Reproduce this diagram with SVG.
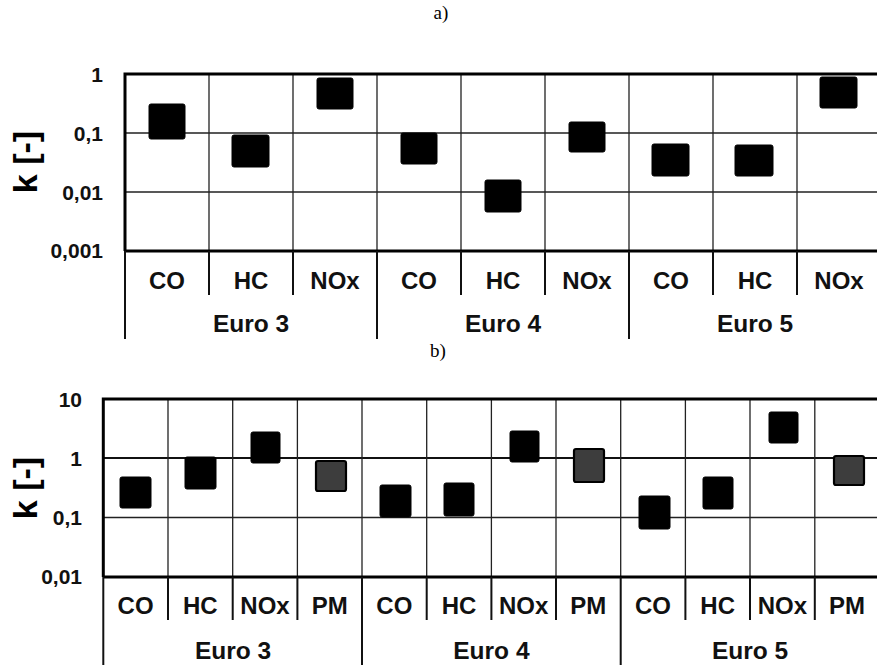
<svg xmlns="http://www.w3.org/2000/svg" width="877" height="665" viewBox="0 0 877 665">
<style>
.bg{fill:#fff}
.grid{stroke:#222;stroke-width:1.3;fill:none}
.ref{stroke:#111;stroke-width:2.2;fill:none}
.frame{stroke:#000;stroke-width:3;fill:none}
.sep{stroke:#111;stroke-width:2;fill:none}
.m{fill:#000;stroke:#000;stroke-width:1}
.pm{fill:#3d3d3d;stroke:#000;stroke-width:2.2}
.tick{font-family:"Liberation Sans",Arial,sans-serif;font-weight:bold;font-size:21px;fill:#111;text-anchor:end}
.cat{font-family:"Liberation Sans",Arial,sans-serif;font-weight:bold;font-size:24px;fill:#111;text-anchor:middle}
.grp{font-family:"Liberation Sans",Arial,sans-serif;font-weight:bold;font-size:24.5px;fill:#111;text-anchor:middle}
.ylab{font-family:"Liberation Sans",Arial,sans-serif;font-weight:bold;font-size:34px;fill:#000;text-anchor:middle}
.title{font-family:"Liberation Serif","Times New Roman",serif;font-size:19px;fill:#000;text-anchor:middle}
</style>
<rect class="bg" x="0" y="0" width="877" height="665"/>

<g id="panel-a">
  <text class="title" x="441" y="19">a)</text>
  <g id="a-grid">
    <path class="grid" d="M125,133H877M125,192H877"/>
    <path class="grid" d="M209,74V251M293,74V251M377,74V251M461,74V251M545,74V251M629,74V251M713,74V251M797,74V251"/>
  </g>
  <g id="a-frame">
    <path class="frame" d="M125,251V74H877M125,251H877"/>
  </g>
  <g id="a-yaxis">
    <text class="tick" x="103" y="82">1</text>
    <text class="tick" x="103" y="141">0,1</text>
    <text class="tick" x="103" y="200">0,01</text>
    <text class="tick" x="103" y="258">0,001</text>
    <text class="ylab" transform="translate(37,162) rotate(-90)">k [-]</text>
  </g>
  <g id="a-xaxis">
    <path class="sep" d="M209,251V295M293,251V295M461,251V295M545,251V295M713,251V295M797,251V295"/>
    <path class="sep" d="M125,251V339M377,251V339M629,251V339"/>
    <text class="cat" x="167" y="289">CO</text>
    <text class="cat" x="251" y="289">HC</text>
    <text class="cat" x="335" y="289">NOx</text>
    <text class="cat" x="419" y="289">CO</text>
    <text class="cat" x="503" y="289">HC</text>
    <text class="cat" x="587" y="289">NOx</text>
    <text class="cat" x="671" y="289">CO</text>
    <text class="cat" x="755" y="289">HC</text>
    <text class="cat" x="839" y="289">NOx</text>
    <text class="grp" x="251" y="332">Euro 3</text>
    <text class="grp" x="503" y="332">Euro 4</text>
    <text class="grp" x="755" y="332">Euro 5</text>
  </g>
  <g id="a-markers">
    <rect class="m" x="149" y="104" width="36" height="35" rx="2"/>
    <rect class="m" x="232" y="135" width="37" height="32" rx="2"/>
    <rect class="m" x="317" y="78" width="36" height="31" rx="2"/>
    <rect class="m" x="401" y="133" width="36" height="31" rx="2"/>
    <rect class="m" x="485" y="180" width="36" height="32" rx="2"/>
    <rect class="m" x="569" y="122" width="36" height="30" rx="2"/>
    <rect class="m" x="652" y="144" width="37" height="32" rx="2"/>
    <rect class="m" x="735" y="145" width="38" height="31" rx="2"/>
    <rect class="m" x="820" y="77" width="37" height="31" rx="2"/>
  </g>
</g>

<g id="panel-b">
  <text class="title" x="438" y="357">b)</text>
  <g id="b-grid">
    <path class="grid" d="M103,517.5H877"/>
    <path class="ref" d="M103,458H877"/>
    <path class="grid" d="M168,399V577M232.7,399V577M297.4,399V577M362,399V577M426.7,399V577M491.4,399V577M556,399V577M620.7,399V577M685.4,399V577M750,399V577M814.8,399V577"/>
  </g>
  <g id="b-frame">
    <path class="frame" d="M103.3,577V399H877M103.3,577H877"/>
  </g>
  <g id="b-yaxis">
    <text class="tick" x="82" y="407">10</text>
    <text class="tick" x="82" y="466">1</text>
    <text class="tick" x="82" y="525">0,1</text>
    <text class="tick" x="82" y="584">0,01</text>
    <text class="ylab" transform="translate(37,488) rotate(-90)">k [-]</text>
  </g>
  <g id="b-xaxis">
    <path class="sep" d="M168,577V620M232.7,577V620M297.4,577V620M426.7,577V620M491.4,577V620M556,577V620M685.4,577V620M750,577V620M814.8,577V620"/>
    <path class="sep" d="M103.3,577V665M362,577V665M620.7,577V665"/>
    <text class="cat" x="135.6" y="614">CO</text>
    <text class="cat" x="200.3" y="614">HC</text>
    <text class="cat" x="265" y="614">NOx</text>
    <text class="cat" x="329.7" y="614">PM</text>
    <text class="cat" x="394.3" y="614">CO</text>
    <text class="cat" x="459" y="614">HC</text>
    <text class="cat" x="523.7" y="614">NOx</text>
    <text class="cat" x="588.3" y="614">PM</text>
    <text class="cat" x="653" y="614">CO</text>
    <text class="cat" x="717.7" y="614">HC</text>
    <text class="cat" x="782.4" y="614">NOx</text>
    <text class="cat" x="847" y="614">PM</text>
    <text class="grp" x="233" y="659">Euro 3</text>
    <text class="grp" x="491.4" y="659">Euro 4</text>
    <text class="grp" x="750" y="659">Euro 5</text>
  </g>
  <g id="b-markers">
    <rect class="m" x="120" y="477" width="31" height="31" rx="2"/>
    <rect class="m" x="185" y="457" width="31" height="32" rx="2"/>
    <rect class="m" x="251" y="432" width="29" height="31" rx="2"/>
    <rect class="pm" x="316" y="461" width="30" height="30" rx="2"/>
    <rect class="m" x="380" y="485" width="31" height="32" rx="2"/>
    <rect class="m" x="444" y="483" width="30" height="33" rx="2"/>
    <rect class="m" x="510" y="431" width="29" height="31" rx="2"/>
    <rect class="pm" x="574" y="449" width="30" height="33" rx="2"/>
    <rect class="m" x="639" y="496" width="31" height="33" rx="2"/>
    <rect class="m" x="703" y="477" width="30" height="32" rx="2"/>
    <rect class="m" x="769" y="412" width="29" height="31" rx="2"/>
    <rect class="pm" x="834" y="456" width="30" height="29" rx="2"/>
  </g>
</g>
</svg>
